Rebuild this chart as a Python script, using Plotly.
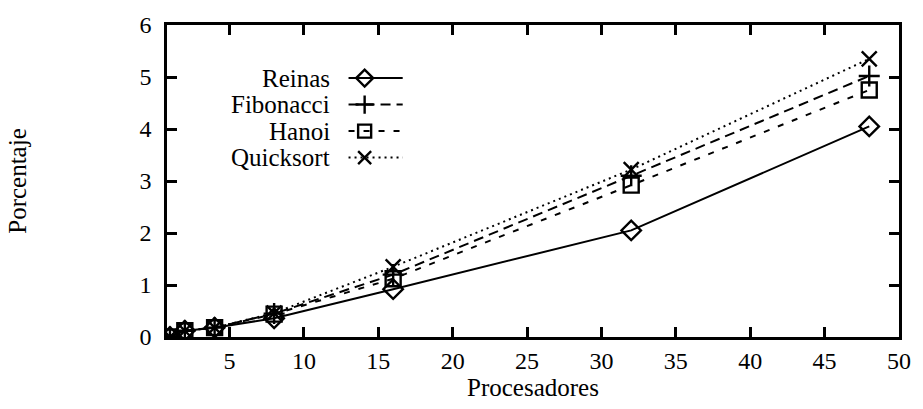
import plotly.graph_objects as go

# Processor counts and percentage for each benchmark
procesadores = [1, 2, 4, 8, 16, 32, 48]
reinas = [0.0, 0.12, 0.18, 0.36, 0.92, 2.05, 4.05]
fibonacci = [0.0, 0.12, 0.18, 0.45, 1.2, 3.1, 5.02]
hanoi = [0.0, 0.12, 0.18, 0.44, 1.12, 2.92, 4.75]
quicksort = [0.0, 0.12, 0.18, 0.46, 1.35, 3.22, 5.35]

series = [
    ("Reinas", reinas, "diamond-open", "solid"),
    ("Fibonacci", fibonacci, "cross-thin", "10px,6px"),
    ("Hanoi", hanoi, "square-open", "6px,9px"),
    ("Quicksort", quicksort, "x-thin", "2px,4px"),
]

FONT = "Liberation Serif, Times New Roman, serif"

fig = go.Figure()
for name, vals, sym, dash in series:
    fig.add_trace(go.Scatter(
        x=procesadores, y=vals, mode="lines+markers", name=name,
        line=dict(color="black", width=2, dash=dash),
        marker=dict(symbol=sym, size=15, color="black",
                    line=dict(color="black", width=2.4)),
        showlegend=False,
    ))

# Key drawn on an overlay axis pair spanning the plot area
key_y = [0.83, 0.745, 0.66, 0.575]
for (name, vals, sym, dash), ky in zip(series, key_y):
    fig.add_trace(go.Scatter(
        x=[0.248, 0.322], y=[ky, ky], mode="lines", xaxis="x2", yaxis="y2",
        line=dict(color="black", width=2, dash=dash), showlegend=False,
        hoverinfo="skip",
    ))
    fig.add_trace(go.Scatter(
        x=[0.27], y=[ky], mode="markers", xaxis="x2", yaxis="y2",
        marker=dict(symbol=sym, size=13, color="black",
                    line=dict(color="black", width=2.4)),
        showlegend=False, hoverinfo="skip",
    ))
    fig.add_annotation(
        x=0.226, y=ky, xref="paper", yref="paper", text=name,
        showarrow=False, xanchor="right", yanchor="middle",
        font=dict(family=FONT, size=25, color="black"),
    )

# x-axis title placed just under the tick labels
fig.add_annotation(
    x=0.5, y=-0.163, xref="paper", yref="paper", text="Procesadores",
    showarrow=False, xanchor="center", yanchor="middle",
    font=dict(family=FONT, size=25, color="black"),
)

axis_common = dict(
    showline=True, linecolor="black", linewidth=2.5, mirror="ticks",
    ticks="inside", ticklen=10, tickwidth=2.5, tickcolor="black",
    showgrid=False, zeroline=False,
    tickfont=dict(family=FONT, size=24, color="black"),
)

fig.update_layout(
    width=923, height=409,
    margin=dict(l=167, r=18, t=17, b=72),
    paper_bgcolor="white", plot_bgcolor="white",
    xaxis=dict(range=[0.8, 50], tick0=0, dtick=5, ticklabelstandoff=0,
               **axis_common),
    yaxis=dict(range=[0, 6], dtick=1, ticklabelstandoff=8,
               title=dict(text="Porcentaje", standoff=106,
                          font=dict(family=FONT, size=25, color="black")),
               **axis_common),
    xaxis2=dict(domain=[0, 1], range=[0, 1], overlaying="x", visible=False,
                anchor="y2"),
    yaxis2=dict(domain=[0, 1], range=[0, 1], overlaying="y", visible=False,
                anchor="x2"),
)

fig.write_html("out.html")
